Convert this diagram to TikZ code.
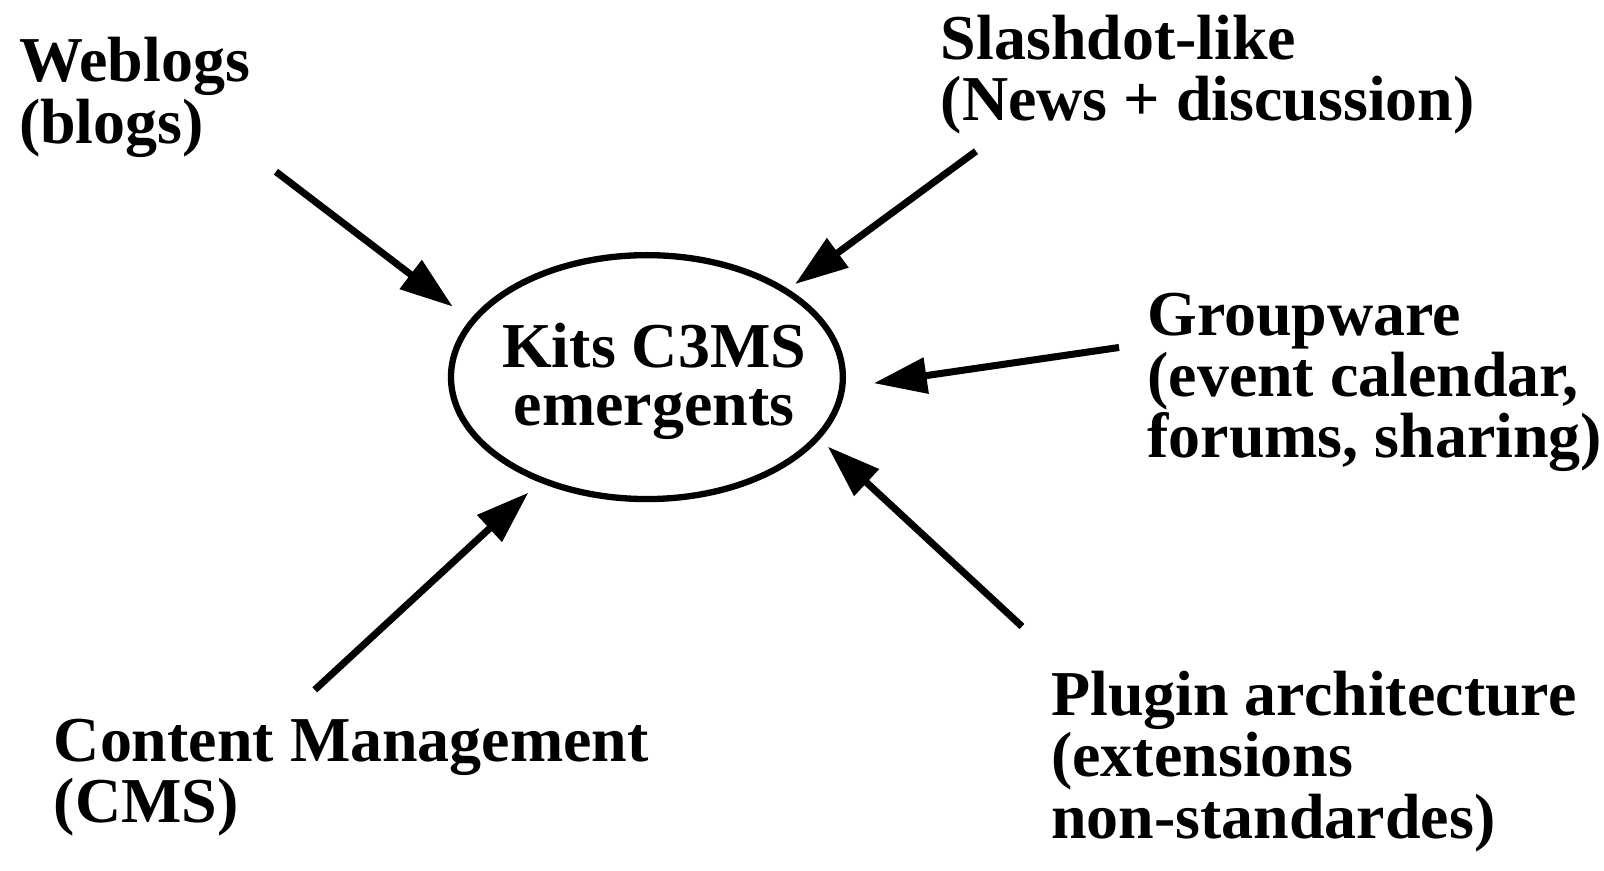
\documentclass[tikz,border=0pt]{standalone}
\usepackage{fontspec}
\setmainfont{Liberation Serif}
\usetikzlibrary{arrows.meta,shapes.geometric}
\begin{document}
\begin{tikzpicture}[x=0.01022cm,y=-0.01022cm,
  lbl/.style={anchor=base west,align=left,inner sep=0pt,font=\bfseries\fontsize{18.2pt}{17.4pt}\selectfont},
  hubtext/.style={anchor=base,align=center,inner sep=0pt,font=\bfseries\fontsize{18.2pt}{16.5pt}\selectfont},
  hub/.style={ellipse,draw,line width=1.8pt,minimum width=3.92cm,minimum height=2.44cm,inner sep=0pt},
  feed/.style={line width=2pt,-{Triangle[length=5.3mm,width=3.5mm]}}]
\useasboundingbox (0,0) rectangle (1569.5,851.3);
\node[hub] (kit) at (633,369) {};
\node[hubtext] (kittext) at (640,416) {Kits C3MS\\emergents};
\node[lbl] (web) at (18,140) {Weblogs\\(blogs)};
\node[lbl] (slash) at (920,118) {Slashdot-like\\(News + discussion)};
\node[lbl] (group) at (1122,448) {Groupware\\(event calendar,\\forums, sharing)};
\node[lbl] (plug) at (1028,820) {Plugin architecture\\(extensions\\non-standardes)};
\node[lbl] (cms) at (52,805) {Content Management\\(CMS)};
\coordinate (wS) at (270,168); \coordinate (wE) at (443,300);
\coordinate (sS) at (955,148); \coordinate (sE) at (778,278);
\coordinate (gS) at (1095,340); \coordinate (gE) at (855,375);
\coordinate (pS) at (1000,613); \coordinate (pE) at (810,437);
\coordinate (cS) at (308,675); \coordinate (cE) at (517,482);
\draw[feed] (wS) -- (wE);
\draw[feed] (sS) -- (sE);
\draw[feed] (gS) -- (gE);
\draw[feed] (pS) -- (pE);
\draw[feed] (cS) -- (cE);
\end{tikzpicture}
\end{document}
